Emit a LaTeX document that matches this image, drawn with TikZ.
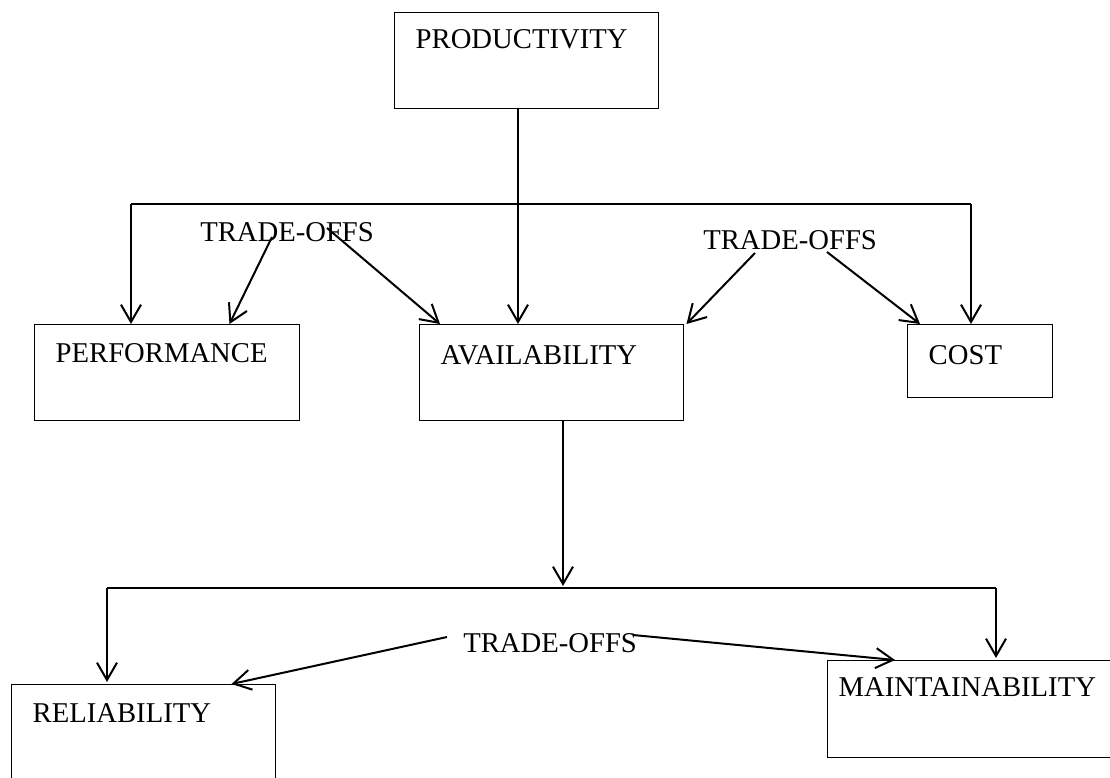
\documentclass[tikz,border=0pt]{standalone}
\usepackage{fontspec}
\setmainfont{Liberation Serif}
\usetikzlibrary{arrows.meta}
\newdimen\p \p=0.75pt
\tikzset{
  box/.style={draw, line width=1.1pt, anchor=north west, inner ysep=0pt, align=left, font=\fontsize{21.5pt}{24pt}\selectfont},
  lbl/.style={inner sep=0pt, anchor=base west, font=\fontsize{21.5pt}{24pt}\selectfont},
  arr/.style={line width=1.5pt, -{Straight Barb[length=13pt,width=15pt,line width=1.5pt]}},
  ln/.style={line width=1.5pt}
}
\begin{document}
\begin{tikzpicture}[x=0.75pt,y=-0.75pt]
\useasboundingbox (0,0) rectangle (1110,778);
\clip (0,0) rectangle (1110,778);
% boxes
\node[box, inner xsep=21\p, text width=222\p, text height=36\p, text depth=60\p] (prod) at (394,12) {PRODUCTIVITY};
\node[box, inner xsep=21\p, text width=223\p, text height=38\p, text depth=58\p] (perf) at (34,324) {PERFORMANCE};
\node[box, inner xsep=21\p, text width=222\p, text height=40\p, text depth=56\p] (avail) at (419,324) {AVAILABILITY};
\node[box, inner xsep=21\p, text width=103\p, text height=40\p, text depth=33\p] (cost) at (907,324) {COST};
\node[box, inner xsep=21\p, text width=222\p, text height=38\p, text depth=78\p] (rel) at (11,684) {RELIABILITY};
\node[box, inner xsep=11\p, text width=291\p, text height=36\p, text depth=61\p] (maint) at (827,660) {MAINTAINABILITY};
% trade-off labels
\node[lbl] (to1) at (200,241) {TRADE-OFFS};
\node[lbl] (to2) at (703,249) {TRADE-OFFS};
\node[lbl] (to3) at (463,652) {TRADE-OFFS};
% bracket corners and starts
\coordinate (pv) at (518,108);
\coordinate (av) at (563,420);
\coordinate (bl) at (131,204);
\coordinate (br) at (971,204);
\coordinate (bbl) at (107,588);
\coordinate (bbr) at (996,588);
\coordinate (bmid) at (563,586);
\coordinate (s1) at (272,237);
\coordinate (s2) at (327,228);
\coordinate (s3) at (755,253);
\coordinate (s4) at (827,252);
\coordinate (s5) at (447,637);
\coordinate (s6) at (633,635);
% top level
\draw[arr] (pv) -- (pv |- avail.north);
\draw[ln] (bl) -- (br);
\draw[arr] (bl) -- (bl |- perf.north);
\draw[arr] (br) -- (br |- cost.north);
% trade-offs top
\draw[arr] (s1) -- ([xshift=-71\p]perf.north east);
\draw[arr] (s2) -- ([xshift=21\p]avail.north west);
\draw[arr] (s3) -- ([xshift=2\p]avail.north east);
\draw[arr] (s4) -- ([xshift=13\p]cost.north west);
% availability down
\draw[arr] (av) -- (bmid);
\draw[ln] (bbl) -- (bbr);
\draw[arr] (bbl) -- ([yshift=2\p]bbl |- rel.north);
\draw[arr] (bbr) -- ([yshift=2\p]bbr |- maint.north);
% trade-offs bottom
\draw[arr] (s5) -- ([xshift=-45\p]rel.north east);
\draw[arr] (s6) -- ([xshift=68\p]maint.north west);
\end{tikzpicture}
\end{document}
